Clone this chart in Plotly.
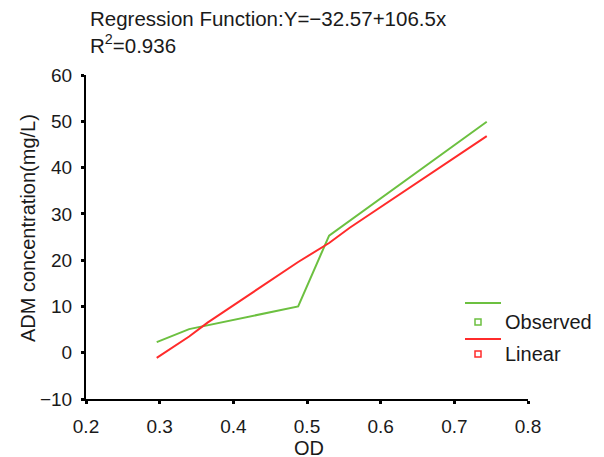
import plotly.graph_objects as go

# Data
od_observed = [0.296, 0.340, 0.488, 0.530, 0.744]
adm_observed = [2.3, 5.1, 10.0, 25.3, 49.9]
od_linear = [0.296, 0.340, 0.365, 0.488, 0.530, 0.558, 0.744]
adm_linear = [-1.1, 3.5, 6.5, 19.6, 23.7, 27.0, 46.8]

x_ticks = [0.2, 0.3, 0.4, 0.5, 0.6, 0.7, 0.8]
y_ticks = [-10, 0, 10, 20, 30, 40, 50, 60]

title_line1 = "Regression Function:Y=\u221232.57+106.5x"
title_line2 = "R<sup>2</sup>=0.936"
x_title = "OD"
y_title = "ADM concentration(mg/L)"
legend_names = ["Observed", "Linear"]

GREEN = "#6cc040"
RED = "#ff2b2b"
FONT = "Liberation Sans, Arial, Helvetica, sans-serif"
TXT = "#1a1a1a"

W, H = 604, 457
L, R, T, B = 78, 84, 67, 66
PW, PH = W - L - R, H - T - B
OFF = 8  # page body margin


def sx(x):
    return (x - OFF - L) / PW


def sy(y):
    return (H - B - (y - OFF)) / PH


fig = go.Figure()
fig.add_trace(go.Scatter(x=od_observed, y=adm_observed, mode="lines",
                         line=dict(color=GREEN, width=2), name=legend_names[0],
                         showlegend=False))
fig.add_trace(go.Scatter(x=od_linear, y=adm_linear, mode="lines",
                         line=dict(color=RED, width=2), name=legend_names[1],
                         showlegend=False))

axis_common = dict(showgrid=False, zeroline=False, showline=True,
                   linecolor="black", linewidth=2, ticks="outside",
                   ticklen=3, tickwidth=3, tickcolor="black",
                   tickfont=dict(family=FONT, size=19, color=TXT),
                   mirror=False)

fig.update_xaxes(range=[0.2, 0.8], tickvals=x_ticks,
                 ticktext=[f"{v:.1f}" for v in x_ticks],
                 ticklabelstandoff=6, **axis_common)
fig.update_yaxes(range=[-10, 60], tickvals=y_ticks,
                 ticklabelstandoff=5, **axis_common)

fig.update_layout(
    width=W, height=H,
    margin=dict(l=L, r=R, t=T, b=B),
    plot_bgcolor="white", paper_bgcolor="white",
    font=dict(family=FONT, size=19, color=TXT),
    showlegend=False,
)


def text(t, x, y, size=20, xanchor="left", angle=0):
    fig.add_annotation(text=t, x=sx(x), y=sy(y), xref="paper", yref="paper",
                       xanchor=xanchor, yanchor="middle", showarrow=False,
                       textangle=angle,
                       font=dict(family=FONT, size=size, color=TXT))


# Titles
text(title_line1, 88, 18, size=20.5)
text(title_line2, 88, 44, size=20.5)
# Axis titles
text(x_title, 309, 448, size=20, xanchor="center")
text(y_title, 28, 228, size=20, xanchor="center", angle=-90)

# SPSS-style legend
legend_items = [(legend_names[0], GREEN, 303, 322), (legend_names[1], RED, 339, 354)]
for name, col, ly, my in legend_items:
    fig.add_shape(type="line", xref="paper", yref="paper",
                  x0=sx(465), x1=sx(501), y0=sy(ly), y1=sy(ly),
                  line=dict(color=col, width=2))
    fig.add_shape(type="rect", xref="paper", yref="paper",
                  x0=sx(475), x1=sx(481), y0=sy(my + 3), y1=sy(my - 3),
                  line=dict(color=col, width=1.5), fillcolor="white")
    text(name, 503, my, size=20)

fig.write_html("out.html")
